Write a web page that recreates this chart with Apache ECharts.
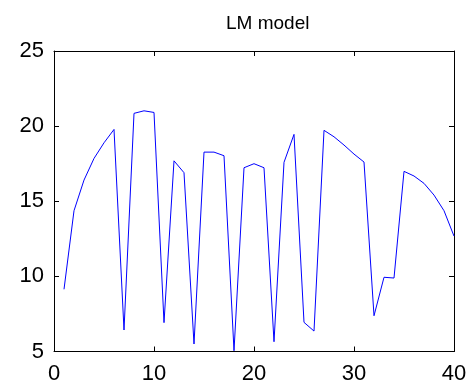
<!DOCTYPE html>
<html>
<head>
<meta charset="utf-8">
<script src="https://cdn.jsdelivr.net/npm/echarts@6/dist/echarts.min.js"></script>
<style>html,body{margin:0;padding:0;background:#fff;}#c{width:473px;height:387px;}</style>
</head>
<body>
<div id="c"></div>
<script>
const xValues = [1,2,3,4,5,6,7,8,9,10,11,12,13,14,15,16,17,18,19,20,21,22,23,24,25,26,27,28,29,30,31,32,33,34,35,36,37,38,39,40];
const yValues = [9.14,14.37,16.41,17.85,18.89,19.78,6.43,20.85,21.02,20.91,6.92,17.69,16.90,5.50,18.27,18.27,18.03,5.05,17.23,17.50,17.23,5.65,17.59,19.45,6.94,6.36,19.72,19.29,18.74,18.14,17.61,7.38,9.94,9.89,16.99,16.68,16.19,15.41,14.37,12.68];
const titleText = "LM model";

const chart = echarts.init(document.getElementById('c'), null, {renderer:'canvas'});
const font = 'Liberation Sans, Arial, sans-serif';
const lineStyle = {color:'#000', width:1};
const tick = {show:true, inside:true, length:5, lineStyle:{color:'#000', width:1}};
chart.setOption({
  animation:false,
  backgroundColor:'#fff',
  title:{text:titleText, left:221, top:9,
    textStyle:{fontFamily:font, fontSize:19, fontWeight:'normal', color:'#000'}},
  grid:{left:54, right:19, top:51, bottom:35.5, containLabel:false},
  xAxis:[
    {type:'value', min:0, max:40, interval:10, position:'bottom',
     axisLine:{show:true, onZero:false, lineStyle}, axisTick:tick, splitLine:{show:false},
     axisLabel:{color:'#000', fontFamily:font, fontSize:22, margin:11}},
    {type:'value', min:0, max:40, interval:10, position:'top',
     axisLine:{show:true, onZero:false, lineStyle}, axisTick:tick, splitLine:{show:false},
     axisLabel:{show:false}}
  ],
  yAxis:[
    {type:'value', min:5, max:25, interval:5, position:'left',
     axisLine:{show:true, onZero:false, lineStyle}, axisTick:tick, splitLine:{show:false},
     axisLabel:{color:'#000', fontFamily:font, fontSize:22, margin:10}},
    {type:'value', min:5, max:25, interval:5, position:'right',
     axisLine:{show:true, onZero:false, lineStyle}, axisTick:tick, splitLine:{show:false},
     axisLabel:{show:false}}
  ],
  series:[{type:'line', data:xValues.map((x,i)=>[x,yValues[i]]), showSymbol:false, symbol:'none',
    lineStyle:{color:'#0000ff', width:1}, itemStyle:{color:'#0000ff'}}]
});
</script>
</body>
</html>
